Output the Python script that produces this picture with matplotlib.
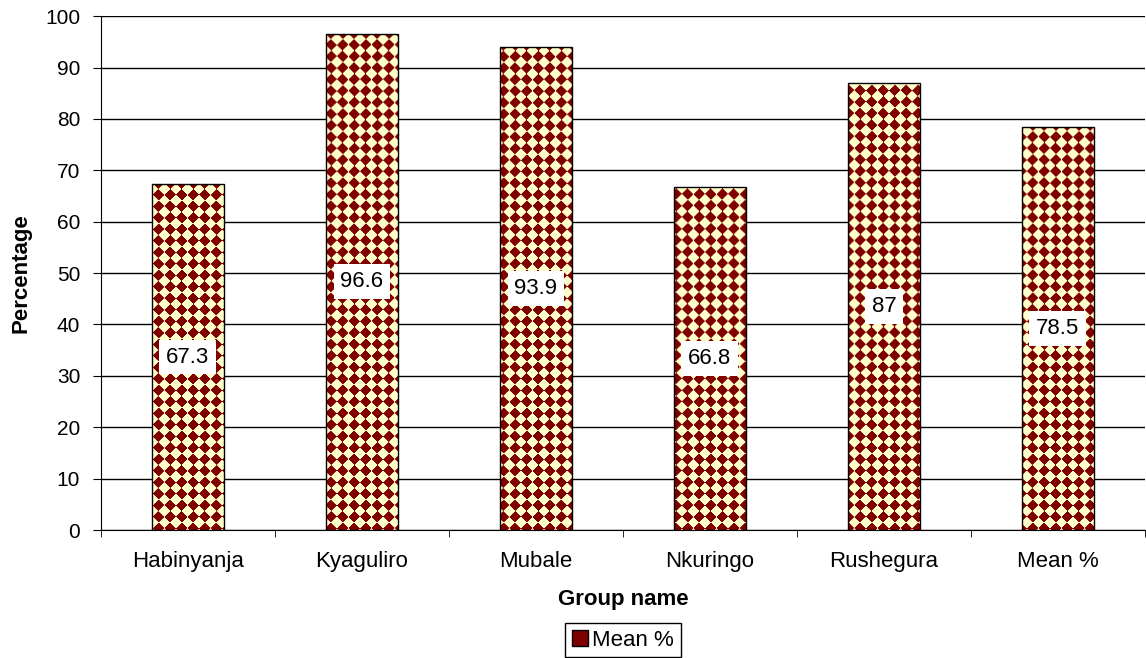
import numpy as np
import matplotlib.pyplot as plt
import matplotlib.transforms as mtransforms
from matplotlib.colors import ListedColormap
from matplotlib.patches import Rectangle

plt.rcParams['font.family'] = ['Liberation Sans', 'DejaVu Sans']

# Datos
groups = ['Habinyanja', 'Kyaguliro', 'Mubale', 'Nkuringo', 'Rushegura', 'Mean %']
values = [67.3, 96.6, 93.9, 66.8, 87, 78.5]
labels = ['67.3', '96.6', '93.9', '66.8', '87', '78.5']

fig = plt.figure(figsize=(11.46, 6.58), dpi=100)
ax = fig.add_axes([0.0881, 0.1945, 0.911, 0.781])

x = np.arange(len(groups))
ax.set_xlim(-0.5, len(groups) - 0.5)
ax.set_ylim(0, 100)

bars = ax.bar(x, values, width=0.41, facecolor='none', edgecolor='black',
              linewidth=1.0, zorder=4)

# Textura de rombos (tablero girado 45 grados) en píxeles
W, H = 1044, 514
p = 11.5
yy, xx = np.mgrid[0:H, 0:W]
pat = ((np.floor((xx + yy) / p) + np.floor((xx - yy) / p)) % 2).astype(float)
cmap = ListedColormap(['#FFFFCC', '#800000'])
for b in bars:
    im = ax.imshow(pat, cmap=cmap, extent=(-0.5, len(groups) - 0.5, 0, 100),
                   aspect='auto', interpolation='antialiased', zorder=3)
    im.set_clip_path(b)

# Etiquetas de datos en el centro de cada barra
for xi, v, t in zip(x, values, labels):
    ax.text(xi, v / 2, t, ha='center', va='center', fontsize=16, zorder=5,
            bbox=dict(facecolor='white', edgecolor='none', pad=5))

ax.set_yticks(np.arange(0, 101, 10))
ax.set_xticks(x)
ax.set_xticklabels(groups, fontsize=16)
ax.set_xticks(np.arange(-0.5, len(groups), 1), minor=True)
ax.tick_params(axis='x', which='major', length=0, pad=15)
ax.tick_params(axis='x', which='minor', length=5, direction='out')
ax.tick_params(axis='y', labelsize=15, length=6, direction='out', pad=9)
ax.grid(axis='y', color='black', linewidth=1, zorder=0)

ax.spines['top'].set_visible(False)
ax.spines['right'].set_visible(False)

ax.set_xlabel('Group name', fontsize=16, fontweight='bold', labelpad=12)
ax.set_ylabel('Percentage', fontsize=16, fontweight='bold', labelpad=10)

# Leyenda centrada bajo el eje (x en coords. del eje, y en coords. de la figura)
trans = mtransforms.blended_transform_factory(ax.transAxes, fig.transFigure)
legend_handle = Rectangle((0, 0), 1, 1, facecolor='#800000', edgecolor='black')
ax.legend(handles=[legend_handle], labels=['Mean %'], loc='center',
          bbox_to_anchor=(0.5, 0.027), bbox_transform=trans,
          fontsize=16, frameon=True, fancybox=False,
          edgecolor='black', framealpha=1, handlelength=0.7, handleheight=0.7,
          handletextpad=0.2, borderpad=0.3)

fig.savefig('out.png', dpi=100)
